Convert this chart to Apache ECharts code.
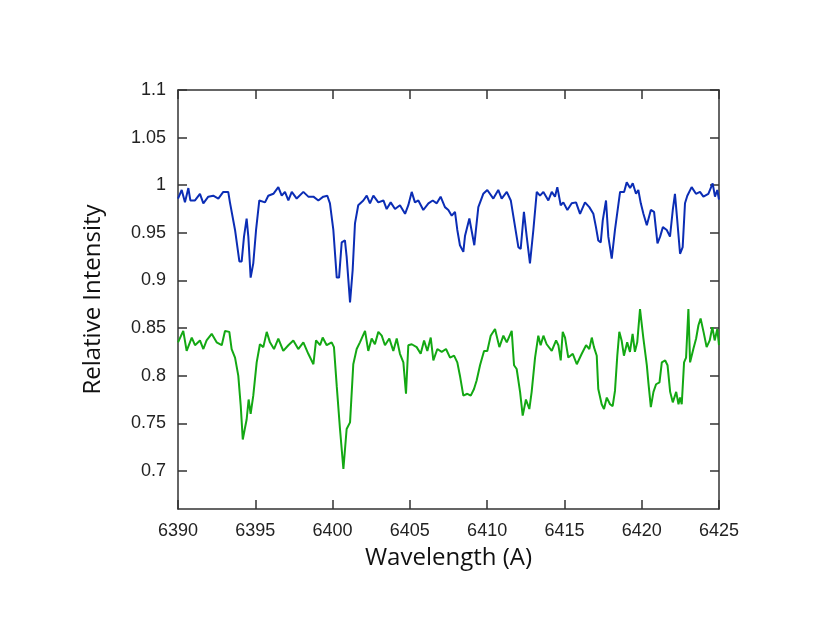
<!DOCTYPE html>
<html>
<head>
<meta charset="utf-8">
<script src="https://cdn.jsdelivr.net/npm/echarts@6/dist/echarts.min.js"></script>
<style>html,body{margin:0;padding:0;background:#fff;}#c{width:830px;height:642px;}</style>
</head>
<body>
<div id="c"></div>
<script>
var blueX = [6390.00,6390.24,6390.45,6390.67,6390.80,6391.10,6391.42,6391.64,6391.96,6392.28,6392.61,6392.93,6393.25,6393.36,6393.69,6393.97,6394.12,6394.27,6394.44,6394.55,6394.70,6394.87,6395.05,6395.26,6395.63,6395.84,6396.17,6396.49,6396.71,6396.92,6397.14,6397.36,6397.68,6398.11,6398.43,6398.76,6399.08,6399.40,6399.66,6399.83,6400.05,6400.27,6400.42,6400.59,6400.80,6400.91,6401.13,6401.30,6401.45,6401.66,6401.99,6402.21,6402.42,6402.64,6402.96,6403.29,6403.50,6403.76,6404.04,6404.36,6404.69,6404.90,6405.12,6405.33,6405.55,6405.87,6406.20,6406.48,6406.74,6406.99,6407.27,6407.49,6407.71,6407.92,6408.07,6408.24,6408.46,6408.57,6408.85,6409.17,6409.43,6409.75,6410.01,6410.40,6410.72,6410.94,6411.27,6411.53,6411.70,6412.02,6412.17,6412.38,6412.56,6412.77,6412.99,6413.21,6413.42,6413.64,6413.96,6414.18,6414.39,6414.54,6414.76,6414.93,6415.19,6415.47,6415.75,6416.01,6416.33,6416.61,6416.87,6417.04,6417.19,6417.35,6417.48,6417.69,6417.84,6418.06,6418.27,6418.60,6418.86,6419.03,6419.25,6419.42,6419.63,6419.78,6419.94,6420.11,6420.33,6420.59,6420.80,6421.02,6421.19,6421.37,6421.62,6421.83,6422.01,6422.15,6422.30,6422.48,6422.65,6422.80,6422.95,6423.23,6423.51,6423.77,6423.99,6424.31,6424.59,6424.74,6424.89,6425.00];
var blueY = [0.986,0.995,0.982,0.997,0.984,0.984,0.991,0.981,0.988,0.989,0.986,0.993,0.993,0.982,0.953,0.920,0.920,0.946,0.965,0.946,0.903,0.918,0.953,0.984,0.982,0.989,0.991,0.998,0.989,0.993,0.984,0.993,0.986,0.993,0.988,0.988,0.984,0.988,0.989,0.981,0.953,0.903,0.903,0.940,0.942,0.925,0.877,0.911,0.960,0.979,0.984,0.989,0.981,0.989,0.982,0.984,0.975,0.982,0.975,0.979,0.970,0.979,0.993,0.982,0.984,0.974,0.981,0.984,0.981,0.988,0.977,0.974,0.968,0.972,0.953,0.937,0.930,0.947,0.965,0.937,0.977,0.991,0.995,0.986,0.995,0.986,0.993,0.984,0.967,0.935,0.933,0.972,0.946,0.918,0.953,0.993,0.989,0.993,0.984,0.993,0.988,0.998,0.979,0.982,0.974,0.981,0.982,0.970,0.982,0.977,0.970,0.956,0.942,0.940,0.963,0.984,0.946,0.923,0.953,0.993,0.993,1.003,0.997,1.002,0.991,0.995,0.981,0.970,0.958,0.974,0.972,0.939,0.946,0.956,0.953,0.946,0.974,0.991,0.963,0.928,0.935,0.981,0.989,0.998,0.991,0.993,0.988,0.991,1.002,0.988,0.995,0.985];
var greenX = [6390.00,6390.34,6390.56,6390.89,6391.10,6391.42,6391.64,6391.85,6392.18,6392.50,6392.83,6393.04,6393.32,6393.47,6393.69,6393.90,6394.06,6394.19,6394.32,6394.44,6394.57,6394.70,6394.87,6395.09,6395.30,6395.52,6395.74,6395.95,6396.21,6396.49,6396.81,6397.14,6397.46,6397.78,6398.11,6398.43,6398.76,6398.93,6399.19,6399.36,6399.62,6399.94,6400.09,6400.27,6400.48,6400.70,6400.91,6401.13,6401.34,6401.56,6401.77,6402.10,6402.31,6402.53,6402.74,6402.96,6403.18,6403.39,6403.67,6403.93,6404.15,6404.36,6404.58,6404.75,6404.90,6405.12,6405.44,6405.70,6405.92,6406.13,6406.35,6406.52,6406.78,6407.06,6407.34,6407.60,6407.86,6408.07,6408.24,6408.46,6408.72,6408.94,6409.15,6409.32,6409.54,6409.80,6410.01,6410.23,6410.51,6410.79,6411.05,6411.27,6411.59,6411.74,6411.91,6412.13,6412.30,6412.51,6412.73,6412.88,6413.10,6413.31,6413.46,6413.64,6413.85,6414.18,6414.46,6414.61,6414.76,6414.89,6415.04,6415.25,6415.54,6415.80,6416.12,6416.40,6416.61,6416.77,6416.91,6417.09,6417.19,6417.41,6417.56,6417.74,6417.95,6418.12,6418.27,6418.42,6418.55,6418.70,6418.85,6419.06,6419.24,6419.41,6419.56,6419.71,6419.89,6420.11,6420.33,6420.43,6420.59,6420.76,6420.93,6421.15,6421.30,6421.52,6421.67,6421.84,6422.01,6422.23,6422.38,6422.48,6422.59,6422.74,6422.87,6423.02,6423.13,6423.34,6423.52,6423.67,6423.81,6424.00,6424.20,6424.40,6424.57,6424.72,6424.89,6425.00];
var greenY = [0.835,0.847,0.826,0.840,0.832,0.837,0.828,0.837,0.844,0.835,0.832,0.847,0.846,0.828,0.819,0.800,0.768,0.733,0.744,0.754,0.775,0.760,0.779,0.814,0.833,0.830,0.846,0.835,0.828,0.839,0.826,0.832,0.837,0.828,0.835,0.823,0.812,0.837,0.832,0.840,0.832,0.835,0.830,0.789,0.744,0.702,0.744,0.751,0.812,0.828,0.835,0.847,0.826,0.839,0.833,0.846,0.842,0.832,0.839,0.826,0.839,0.823,0.814,0.781,0.832,0.833,0.830,0.823,0.837,0.826,0.840,0.816,0.828,0.825,0.828,0.819,0.821,0.814,0.800,0.779,0.781,0.779,0.786,0.795,0.811,0.826,0.826,0.842,0.849,0.830,0.842,0.835,0.847,0.811,0.807,0.783,0.758,0.775,0.765,0.783,0.819,0.842,0.832,0.842,0.833,0.826,0.837,0.832,0.816,0.846,0.840,0.819,0.823,0.812,0.823,0.832,0.828,0.840,0.830,0.821,0.786,0.770,0.765,0.777,0.770,0.768,0.784,0.821,0.846,0.837,0.821,0.835,0.825,0.844,0.825,0.835,0.870,0.839,0.811,0.793,0.767,0.783,0.791,0.793,0.814,0.816,0.811,0.783,0.772,0.783,0.770,0.777,0.770,0.814,0.819,0.870,0.814,0.828,0.839,0.853,0.860,0.846,0.830,0.837,0.851,0.837,0.849,0.832];
var yTicks = [0.7, 0.75, 0.8, 0.85, 0.9, 0.95, 1, 1.05, 1.1];
var xName = 'Wavelength (A)';
var yName = 'Relative Intensity';

function zip(xs, ys) { return xs.map(function (x, i) { return [x, ys[i]]; }); }
function plain(v) { return String(v); }

var frame = { show: true, lineStyle: { color: '#333', width: 1.5 } };
var tick = { show: true, inside: true, length: 9, lineStyle: { color: '#333', width: 1.5 } };
var lblFont = { fontFamily: 'Liberation Sans', fontSize: 18, color: '#222', formatter: plain };
var nameFont = { fontFamily: 'Open Sans', fontSize: 24, color: '#111' };

var chart = echarts.init(document.getElementById('c'), null, { renderer: 'canvas' });
chart.setOption({
  animation: false,
  backgroundColor: '#fff',
  grid: { left: 178, right: 111, top: 90, bottom: 133, containLabel: false },
  xAxis: [
    { type: 'value', position: 'bottom', min: 6390, max: 6425, interval: 5,
      axisLine: frame, axisTick: tick, splitLine: { show: false },
      axisLabel: Object.assign({ margin: 13 }, lblFont),
      name: xName, nameLocation: 'middle', nameGap: 37, nameTextStyle: nameFont },
    { type: 'value', position: 'top', min: 6390, max: 6425, interval: 5,
      axisLine: frame, axisTick: tick, splitLine: { show: false }, axisLabel: { show: false } }
  ],
  yAxis: [
    { type: 'value', position: 'left', min: 0.66, max: 1.1,
      axisLine: frame, splitLine: { show: false },
      axisTick: Object.assign({ customValues: yTicks }, tick),
      axisLabel: Object.assign({ margin: 12, customValues: yTicks }, lblFont),
      name: yName, nameLocation: 'middle', nameGap: 73, nameTextStyle: nameFont },
    { type: 'value', position: 'right', min: 0.66, max: 1.1,
      axisLine: frame, splitLine: { show: false },
      axisTick: Object.assign({ customValues: yTicks }, tick),
      axisLabel: { show: false } }
  ],
  series: [
    { type: 'line', xAxisIndex: 0, yAxisIndex: 0, data: zip(blueX, blueY), showSymbol: false,
      lineStyle: { color: '#0b2db5', width: 2 }, itemStyle: { color: '#0b2db5' }, clip: true },
    { type: 'line', xAxisIndex: 0, yAxisIndex: 0, data: zip(greenX, greenY), showSymbol: false,
      lineStyle: { color: '#13a813', width: 2 }, itemStyle: { color: '#13a813' }, clip: true }
  ]
});
</script>
</body>
</html>
